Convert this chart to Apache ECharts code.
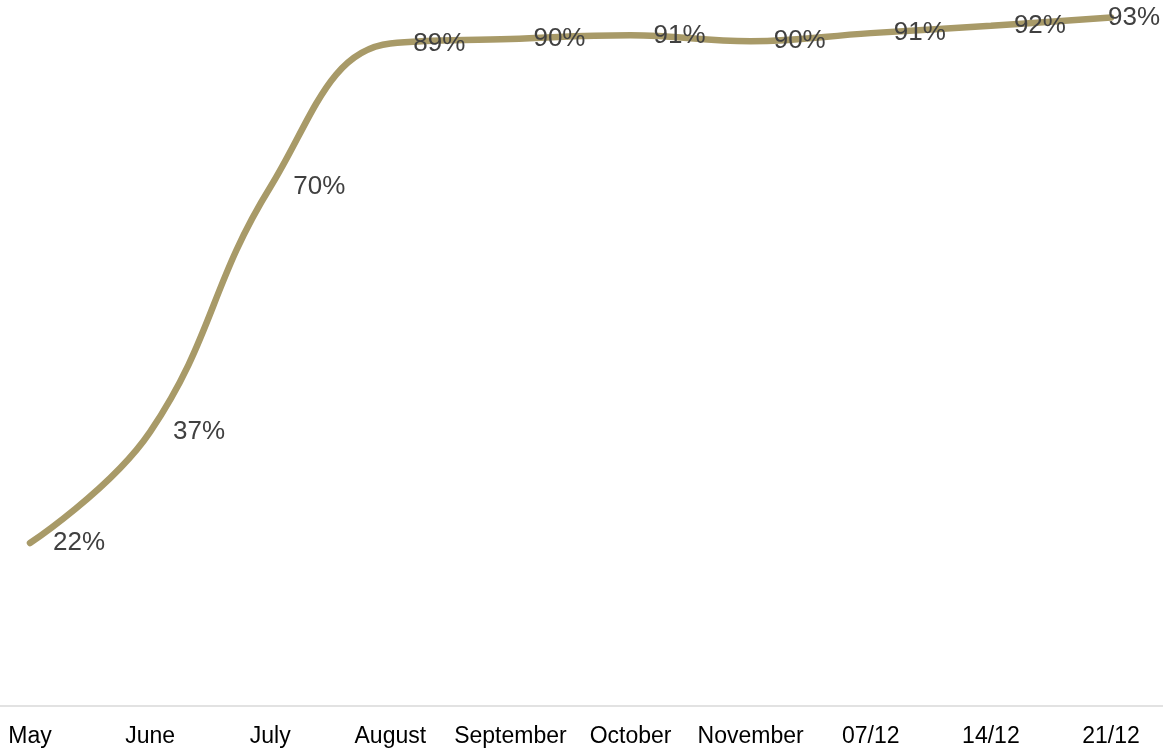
<!DOCTYPE html>
<html>
<head>
<meta charset="utf-8">
<script src="https://cdn.jsdelivr.net/npm/echarts@6/dist/echarts.min.js"></script>
<style>html,body{margin:0;padding:0;background:#fff;}#c{width:1163px;height:750px;}</style>
</head>
<body>
<div id="c"></div>
<script>
const categories = ['May','June','July','August','September','October','November','07/12','14/12','21/12'];
const values = [0.22, 0.37, 0.70, 0.894, 0.90, 0.905, 0.897, 0.908, 0.918, 0.929];

const chart = echarts.init(document.getElementById('c'));
const seriesData = values.map((v, i) => {
  if (i === values.length - 1) {
    return { value: v, label: { position: 'right', distance: 0, offset: [-4, 0] } };
  }
  return v;
});
chart.setOption({
  animation: false,
  grid: [
    { left: 30, right: 52, top: 2, bottom: 44, containLabel: false },
    { left: 0, right: 0, top: 2, bottom: 44, containLabel: false }
  ],
  xAxis: [{
    type: 'category',
    gridIndex: 0,
    data: categories,
    boundaryGap: false,
    axisLine: { show: false },
    axisTick: { show: false },
    axisLabel: { color: '#000', fontSize: 23, fontFamily: 'Liberation Sans, Arial, sans-serif', margin: 19, interval: 0 }
  }, {
    type: 'value',
    gridIndex: 1,
    min: 0, max: 1,
    axisLine: { show: true, lineStyle: { color: '#d9d9d9', width: 1.5 } },
    axisTick: { show: false },
    axisLabel: { show: false },
    splitLine: { show: false }
  }],
  yAxis: [{
    type: 'value', gridIndex: 0, min: 0, max: 0.95,
    show: false,
    splitLine: { show: false }
  }, {
    type: 'value', gridIndex: 1, min: 0, max: 1,
    show: false,
    splitLine: { show: false }
  }],
  series: [{
    type: 'line',
    xAxisIndex: 0,
    yAxisIndex: 0,
    data: seriesData,
    smooth: 0.42,
    clip: false,
    symbol: 'circle',
    symbolSize: 2,
    showSymbol: true,
    showAllSymbol: true,
    itemStyle: { color: 'rgba(0,0,0,0)', opacity: 0 },
    lineStyle: { color: '#A89A68', width: 6.5, cap: 'round' },
    label: {
      show: true,
      position: 'right',
      distance: 22,
      color: '#404040',
      opacity: 1,
      fontSize: 26,
      fontFamily: 'Liberation Sans, Arial, sans-serif',
      formatter: p => Math.round(p.value * 100) + '%'
    }
  }]
});
</script>
</body>
</html>
